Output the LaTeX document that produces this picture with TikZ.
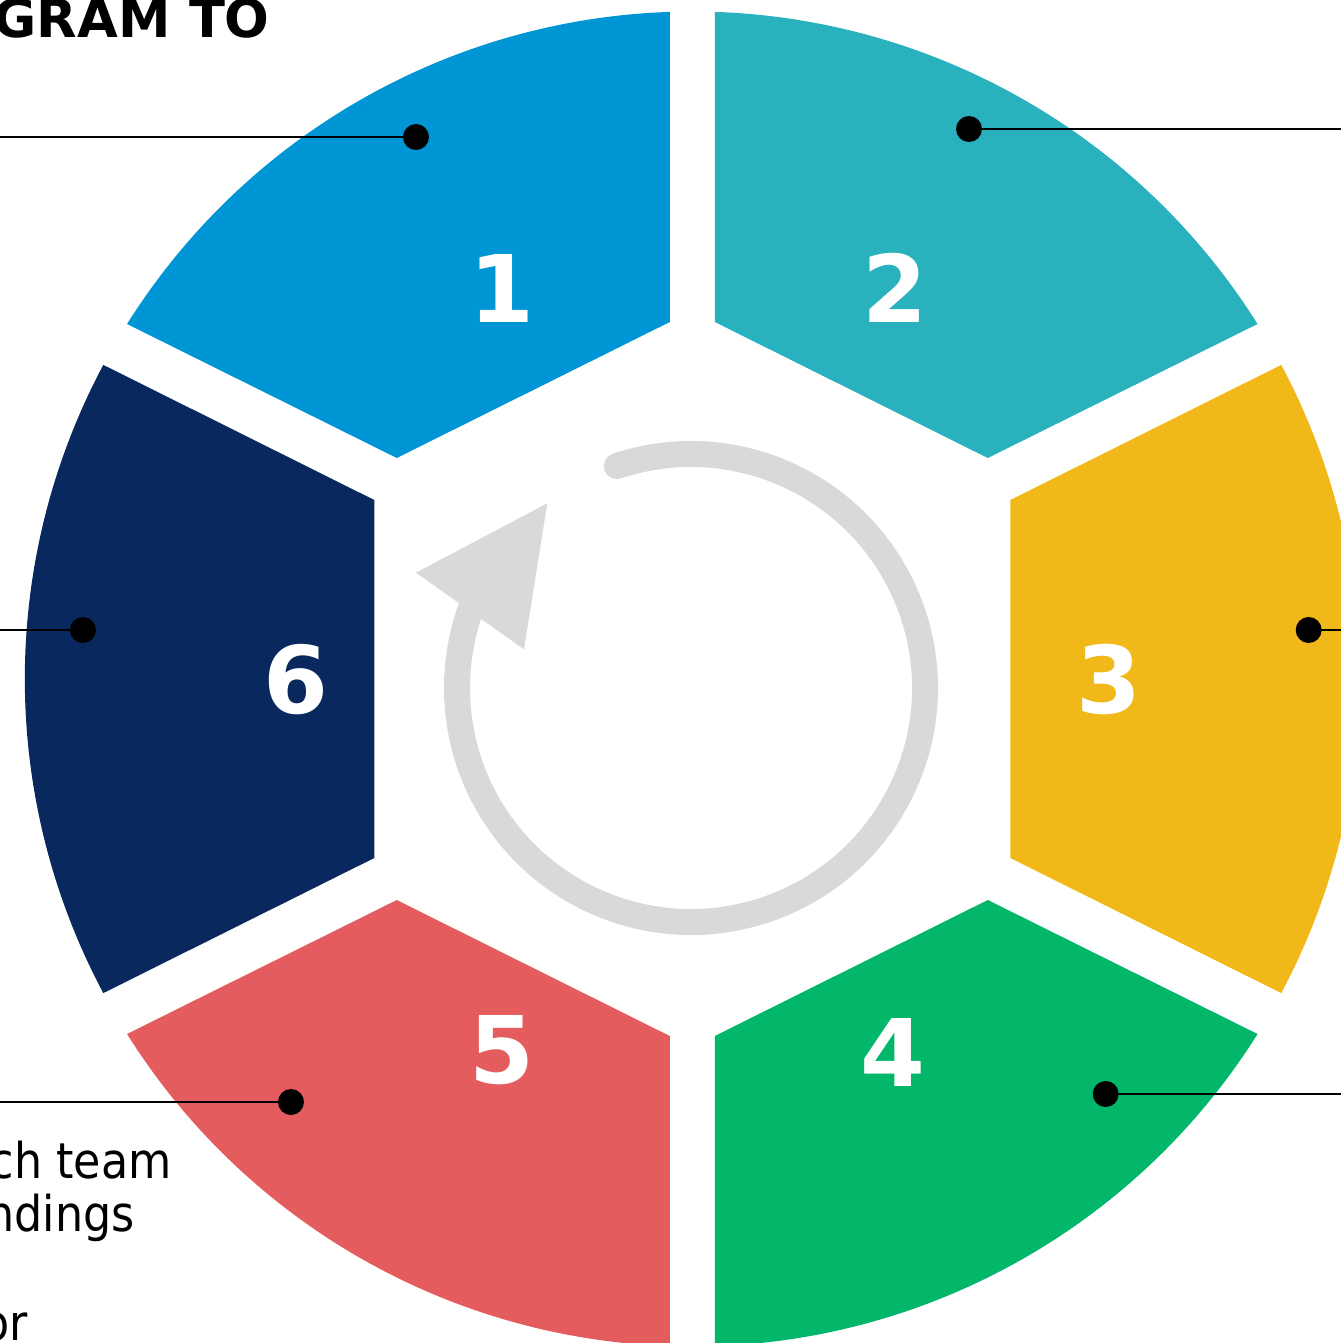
\documentclass[tikz,border=0pt]{standalone}
\usepackage{fontspec}
\setmainfont{DejaVu Sans}
\definecolor{segA}{RGB}{0,150,214}
\definecolor{segB}{RGB}{41,177,189}
\definecolor{segC}{RGB}{241,184,25}
\definecolor{segD}{RGB}{2,182,106}
\definecolor{segE}{RGB}{229,92,94}
\definecolor{segF}{RGB}{9,41,94}
\definecolor{cyclegray}{RGB}{217,217,217}
\begin{document}
\begin{tikzpicture}[x=0.75pt,y=0.75pt,
  dot/.style={circle,fill=black,inner sep=0pt,minimum size=19.5pt},
  leader/.style={draw=black,line width=1.95pt},
  stepnum/.style={text=white,anchor=base,font=\fontsize{70}{84}\selectfont\bfseries},
  sidetext/.style={anchor=base east,text=black,font=\fontsize{37}{44}\selectfont,inner sep=0pt,xscale=0.9,transform shape},
  cyclearc/.style={draw=cyclegray,line width=19.5pt,line cap=round}]
\useasboundingbox (-692.3,-664) rectangle (648.7,679);
\clip (-692.3,-664) rectangle (648.7,679);

% ring segments between the inner hexagon and the outer circle
\fill[segA] (-22.5,357) -- (91.93:667.5) arc[start angle=91.93,end angle=147.87,radius=667.5] -- (-295.5,221) -- cycle;
\fill[segB] (22.5,357) -- (88.07:667.5) arc[start angle=88.07,end angle=32.13,radius=667.5] -- (295.5,221) -- cycle;
\fill[segC] (318,179) -- (28.07:667.5) arc[start angle=28.07,end angle=-28.07,radius=667.5] -- (318,-179) -- cycle;
\fill[segD] (22.5,-357) -- (-88.07:667.5) arc[start angle=-88.07,end angle=-32.13,radius=667.5] -- (295.5,-221) -- cycle;
\fill[segE] (-22.5,-357) -- (-91.93:667.5) arc[start angle=-91.93,end angle=-147.87,radius=667.5] -- (-295.5,-221) -- cycle;
\fill[segF] (-318,179) -- (151.93:667.5) arc[start angle=151.93,end angle=208.07,radius=667.5] -- (-318,-179) -- cycle;

% step numbers
\node[stepnum] (n1) at (-190.8,356) {1};
\node[stepnum] (n2) at (202.4,356) {2};
\node[stepnum] (n3) at (416.7,-34) {3};
\node[stepnum] (n4) at (200.4,-407) {4};
\node[stepnum] (n5) at (-190.8,-404) {5};
\node[stepnum] (n6) at (-396.3,-34) {6};

% cycle arrow in the middle
\coordinate (m) at (-1.3,-9);
\draw[cyclearc] ([shift={(m)}]108.5:234) arc[start angle=108.5,end angle=-201,radius=234];
\fill[cyclegray] (-145,175.7) -- (-276.3,106.3) -- (-168.3,29.7) -- cycle;

% leader lines with end dots
\node[dot] (d1) at (-276.3,542) {};
\node[dot] (d2) at (276.7,550) {};
\node[dot] (d3) at (616.4,49) {};
\node[dot] (d4) at (413.4,-415) {};
\node[dot] (d5) at (-401.3,-423) {};
\node[dot] (d6) at (-609.3,49) {};
\coordinate (e1) at (-700,542);
\coordinate (e2) at (660,550);
\coordinate (e3) at (660,49);
\coordinate (e4) at (660,-415);
\coordinate (e5) at (-700,-423);
\coordinate (e6) at (-700,49);
\foreach \i in {1,...,6} \draw[leader] (d\i.center) -- (e\i);

% text
\node[anchor=base east,inner sep=0pt,font=\fontsize{39.5}{47}\selectfont\bfseries] (title) at (-422.3,641) {GRAM TO};
\node[sidetext] (t1) at (-520.3,-499.3) {ch team};
\node[sidetext] (t2) at (-557.3,-552.7) {ndings};
\node[sidetext] (t3) at (-664.3,-661) {or};
\end{tikzpicture}
\end{document}
